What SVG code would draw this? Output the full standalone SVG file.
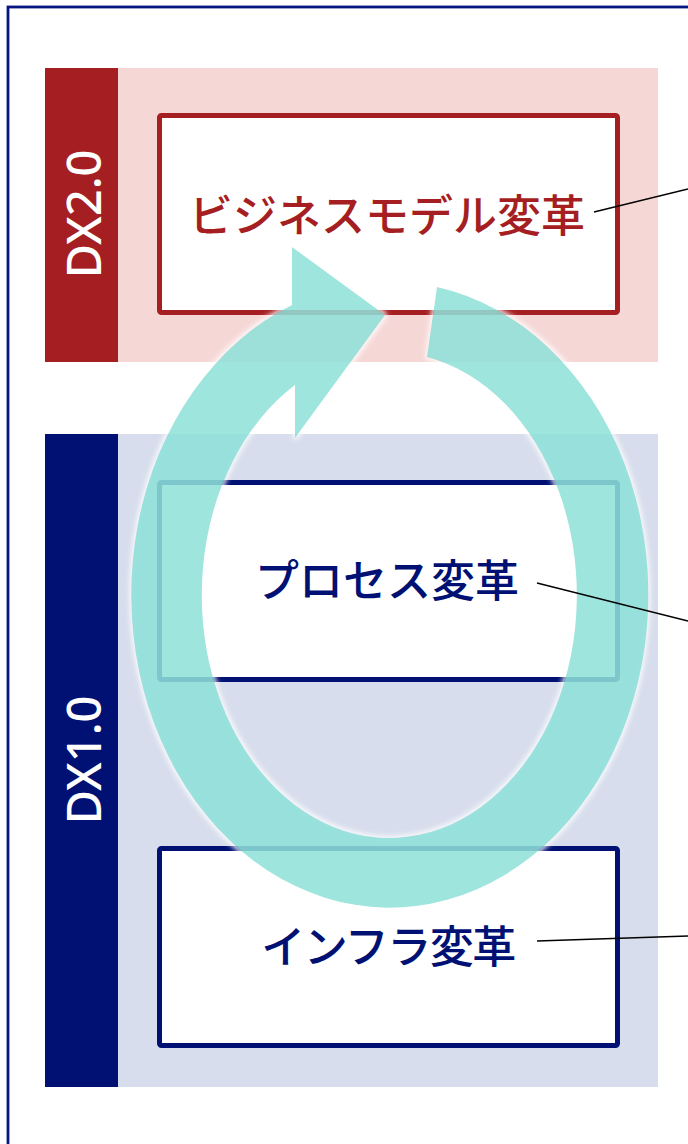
<svg xmlns="http://www.w3.org/2000/svg" width="688" height="1144" viewBox="0 0 688 1144">
  <style>
    .band-label { font-family: "Noto Sans", "Open Sans", "DejaVu Sans", sans-serif; font-size: 47px; font-weight: 500; fill: #ffffff; text-anchor: middle; }
    .box-red { fill: #ffffff; stroke: #a51f22; stroke-width: 5; }
    .box-navy { fill: #ffffff; stroke: #001173; stroke-width: 5; }
    .label { font-family: "Noto Sans CJK JP", "Noto Sans", sans-serif; font-size: 44px; font-weight: 500; text-anchor: middle; }
    .label-red { fill: #a51f22; }
    .label-navy { fill: #001173; }
    .conn { stroke: #000000; stroke-width: 1.3; fill: none; }
  </style>
  <defs>
    <filter id="glow" x="-10%" y="-10%" width="120%" height="120%">
      <feMorphology in="SourceAlpha" operator="dilate" radius="2" result="d"/>
      <feGaussianBlur in="d" stdDeviation="2.5" result="b"/>
      <feFlood flood-color="#ffffff" flood-opacity="0.95"/>
      <feComposite in2="b" operator="in" result="w"/>
      <feComposite in="w" in2="SourceAlpha" operator="out" result="wo"/>
      <feMerge>
        <feMergeNode in="wo"/>
        <feMergeNode in="SourceGraphic"/>
      </feMerge>
    </filter>
  </defs>

  <rect width="688" height="1144" fill="#ffffff"/>
  <g id="frame">
    <rect x="8" y="7" width="700" height="1160" fill="none" stroke="#061680" stroke-width="2.8"/>
  </g>

  <g id="dx2-panel">
    <rect x="45" y="68" width="613" height="294" fill="#f5d7d6"/>
    <rect x="45" y="68" width="73" height="294" fill="#a51f22"/>
    <text class="band-label" transform="translate(101,214) rotate(-90)">DX2.0</text>
  </g>

  <g id="dx1-panel">
    <rect x="45" y="434" width="613" height="653" fill="#d7ddec"/>
    <rect x="45" y="434" width="73" height="653" fill="#001173"/>
    <text class="band-label" transform="translate(101,760) rotate(-90)">DX1.0</text>
  </g>

  <g id="box-business">
    <rect class="box-red" x="159.5" y="115.5" width="458" height="197" rx="2"/>
    <text class="label label-red" x="387" y="232">ビジネスモデル変革</text>
  </g>

  <g id="box-process">
    <rect class="box-navy" x="159.5" y="482.5" width="458" height="197" rx="2"/>
    <text class="label label-navy" x="387" y="597">プロセス変革</text>
  </g>

  <g id="box-infra">
    <rect class="box-navy" x="159.5" y="848.5" width="458" height="197" rx="2"/>
    <text class="label label-navy" x="388" y="963" letter-spacing="-1.5">インフラ変革</text>
  </g>

  <g id="cycle-arrow" filter="url(#glow)">
    <path d="M 437 287 A 258.5 313 0 1 1 292 305 L 292 247 L 385 315 L 295 438 L 295 385 A 187.5 243 0 1 0 427 357 Z" fill="#8ce0d8" fill-opacity="0.85"/>
  </g>

  <g id="connectors">
    <line class="conn" x1="594" y1="212" x2="688" y2="189"/>
    <line class="conn" x1="537" y1="583" x2="688" y2="621"/>
    <line class="conn" x1="537" y1="941" x2="688" y2="936"/>
  </g>
</svg>
